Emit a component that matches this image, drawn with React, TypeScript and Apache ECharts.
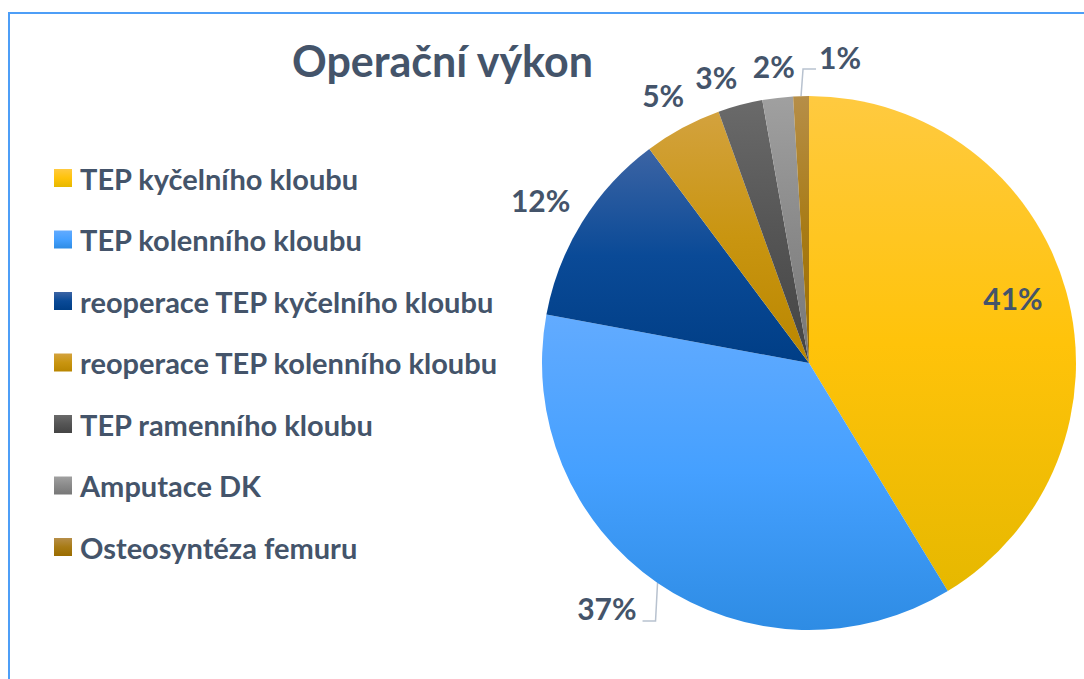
import React, { useEffect, useRef } from "react";
import * as echarts from "echarts";

const categories = [
  "TEP kyčelního kloubu",
  "TEP kolenního kloubu",
  "reoperace TEP kyčelního kloubu",
  "reoperace TEP kolenního kloubu",
  "TEP ramenního kloubu",
  "Amputace DK",
  "Osteosyntéza femuru",
];
const shares = [41.3, 36.6, 11.9, 4.7, 2.7, 1.85, 0.95];
const titleText = "Operační výkon";

const gradientStops = [
  ["#FFCA40", "#FFC30A", "#E6B800"],
  ["#62ABFF", "#45A0FF", "#2E8CE4"],
  ["#3C64A4", "#0A4A97", "#003E86"],
  ["#D3A23E", "#C99510", "#B98600"],
  ["#6A6A6A", "#555555", "#444444"],
  ["#A0A0A0", "#8A8A8A", "#777777"],
  ["#B68E48", "#A87B15", "#9A6C00"],
];

const FONT = "Lato, 'Noto Sans', sans-serif";
const TEXT_COLOR = "#44546A";
const CX = 809;
const CY = 363;
const R = 267;
const labelDist = [214, 0, 314, 305, 301, 299, 0];
const angShift = [-2, 0, -0.6, -0.3, -3, 0, 0];

function midAngle(i: number): number {
  const total = shares.reduce((a, b) => a + b, 0);
  let cum = 0;
  for (let j = 0; j < i; j++) cum += shares[j];
  return ((cum + shares[i] / 2) / total) * Math.PI * 2;
}

export default function App() {
  const ref = useRef<HTMLDivElement>(null);
  useEffect(() => {
    document.body.style.margin = "0";
    if (!ref.current) return;
    const chart = echarts.init(ref.current, undefined, { renderer: "svg" });
    const data = categories.map((name, i) => ({
      name,
      value: shares[i],
      itemStyle: {
        color: {
          type: "linear",
          x: 0,
          y: 0,
          x2: 0,
          y2: 1,
          colorStops: [
            { offset: 0, color: gradientStops[i][0] },
            { offset: 0.5, color: gradientStops[i][1] },
            { offset: 1, color: gradientStops[i][2] },
          ],
        },
      },
      labelLine: { show: i === 1 || i === 6 },
    }));
    chart.setOption({
      animation: false,
      backgroundColor: "#ffffff",
      title: {
        text: titleText,
        left: 287,
        top: 34,
        textStyle: {
          fontFamily: FONT,
          fontSize: 43,
          fontWeight: "bold",
          color: TEXT_COLOR,
          lineHeight: 43,
        },
      },
      legend: {
        orient: "vertical",
        left: 49,
        top: 158,
        itemWidth: 18,
        itemHeight: 18,
        itemGap: 31.5,
        icon: "rect",
        selectedMode: false,
        data: categories,
        textStyle: {
          fontFamily: FONT,
          fontSize: 29,
          fontWeight: "bold",
          color: TEXT_COLOR,
          lineHeight: 30,
          padding: [0, 0, 0, 3],
        },
      },
      graphic: [
        {
          type: "rect",
          silent: true,
          z: -1,
          shape: { x: 9, y: 13, width: 1200, height: 800 },
          style: { fill: "none", stroke: "#4D9EF7", lineWidth: 2 },
        },
      ],
      series: [
        {
          type: "pie",
          center: [CX, CY],
          radius: R,
          startAngle: 90,
          clockwise: true,
          avoidLabelOverlap: false,
          emphasis: { disabled: true },
          data,
          label: {
            show: true,
            position: "outside",
            formatter: (p: any) => Math.round(p.percent) + "%",
            fontFamily: FONT,
            fontSize: 30,
            fontWeight: "bold",
            color: TEXT_COLOR,
          },
          labelLine: {
            show: false,
            lineStyle: { color: "#B8C2CF", width: 1.5 },
          },
          labelLayout: (params: any) => {
            const i = params.dataIndex;
            const a = midAngle(i);
            const dx = Math.sin(a);
            const dy = -Math.cos(a);
            const edge = [CX + R * dx, CY + R * dy];
            if (i === 1) {
              const p1 = [edge[0] - 2, edge[1] + 38];
              const p2 = [p1[0] - 13, p1[1]];
              return {
                x: p2[0] - 6,
                y: p2[1] - 13,
                align: "right",
                verticalAlign: "middle",
                labelLinePoints: [edge, p1, p2],
              };
            }
            if (i === 6) {
              const p1 = [edge[0] + 2, edge[1] - 27];
              const p2 = [p1[0] + 13, p1[1]];
              return {
                x: p2[0] + 3,
                y: p2[1] - 12,
                align: "left",
                verticalAlign: "middle",
                labelLinePoints: [edge, p1, p2],
              };
            }
            const b = a + (angShift[i] * Math.PI) / 180;
            return {
              x: CX + labelDist[i] * Math.sin(b),
              y: CY - labelDist[i] * Math.cos(b),
              align: "center",
              verticalAlign: "middle",
            };
          },
        },
      ],
    });
    return () => chart.dispose();
  }, []);
  return <div ref={ref} style={{ width: 1084, height: 679 }} />;
}
